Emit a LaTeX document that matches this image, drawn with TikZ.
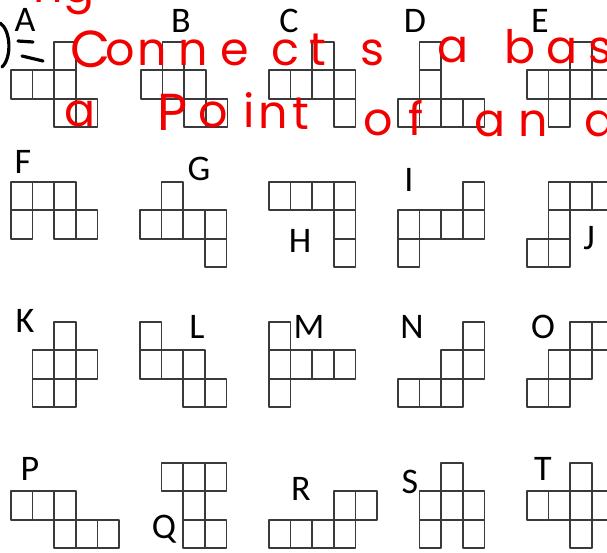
\documentclass[tikz,border=0pt]{standalone}
\usepackage{fontspec}
\setmainfont{Carlito}
\newfontfamily\handfont{Poppins}
\definecolor{gridgray}{HTML}{3A3A3A}
\definecolor{inkred}{HTML}{F20000}
\newcommand{\cw}{21.6}
\newcommand{\ch}{28.33}
\newcommand{\hexnet}[3]{%
  \foreach \c/\r in {#3} {\draw[cellline] ({#1+\c*\cw},{#2+\r*\ch}) rectangle ++(\cw,\ch);}}
\begin{document}
\begin{tikzpicture}[x=1pt,y=-1pt,
  cellline/.style={draw=gridgray,line width=1.7pt,line join=round},
  lbl/.style={font=\fontsize{36}{36}\selectfont,anchor=base,inner sep=0pt},
  hw/.style={text=inkred,font=\handfont\fontsize{46}{46}\selectfont,anchor=base,inner sep=0pt},
  hwcap/.style={hw,font=\handfont\fontsize{52}{52}\selectfont},
  pen/.style={draw=black,line width=3.2pt,line cap=round}]
\useasboundingbox (0,0) rectangle (607,553);
\clip (0,0) rectangle (607,553);
\fill[white] (0,0) rectangle (607,553);
% row 1
\hexnet{11}{42}{2/0,0/1,1/1,2/1,2/2,3/2}
\hexnet{141}{42}{1/0,0/1,1/1,2/1,2/2,3/2}
\hexnet{269}{42}{2/0,0/1,1/1,2/1,3/1,3/2}
\hexnet{398}{42}{1/0,1/1,0/2,1/2,2/2,3/2}
\hexnet{527}{42}{2/0,0/1,1/1,2/1,3/1,1/2}
% row 2
\hexnet{11}{182}{0/0,1/0,2/0,0/1,2/1,3/1}
\hexnet{140}{182}{1/0,0/1,1/1,2/1,3/1,3/2}
\hexnet{269}{182}{0/0,1/0,2/0,3/0,3/1,3/2}
\hexnet{398}{182}{3/0,0/1,1/1,2/1,3/1,0/2}
\hexnet{527}{182}{1/0,2/0,3/0,1/1,0/2,1/2}
% row 3
\hexnet{11}{322}{2/0,1/1,2/1,3/1,1/2,2/2}
\hexnet{140}{322}{0/0,0/1,1/1,2/1,2/2,3/2}
\hexnet{269}{322}{0/0,0/1,1/1,2/1,3/1,0/2}
\hexnet{398}{322}{3/0,2/1,3/1,0/2,1/2,2/2}
\hexnet{527}{322}{2/0,3/0,1/1,2/1,0/2,1/2}
% row 4
\hexnet{11}{463}{0/1,1/1,2/1,2/2,3/2,4/2}
\hexnet{140}{463}{1/0,2/0,3/0,2/1,2/2,3/2}
\hexnet{269}{463}{3/1,4/1,0/2,1/2,2/2,3/2}
\hexnet{398}{463}{2/0,1/1,2/1,3/1,1/2,3/2}
\hexnet{527}{463}{2/0,0/1,1/1,2/1,3/1,2/2}
% labels
\node[lbl] (lA) at (25,32) {A};
\node[lbl] (lB) at (181,33) {B};
\node[lbl] (lC) at (289,33) {C};
\node[lbl] (lD) at (415,33) {D};
\node[lbl] (lE) at (540,33) {E};
\node[lbl] (lF) at (23,174) {F};
\node[lbl] (lG) at (199,181) {G};
\node[lbl] (lH) at (300,252) {H};
\node[lbl] (lI) at (409,192) {I};
\node[lbl] (lJ) at (589,249) {J};
\node[lbl] (lK) at (25,332) {K};
\node[lbl] (lL) at (197,338) {L};
\node[lbl] (lM) at (309,338) {M};
\node[lbl] (lN) at (412,338) {N};
\node[lbl] (lO) at (543,338) {O};
\node[lbl] (lP) at (30,480) {P};
\node[lbl] (lQ) at (164,538) {Q};
\node[lbl] (lR) at (301,500) {R};
\node[lbl] (lS) at (410,493) {S};
\node[lbl] (lT) at (543,480) {T};
% black handwriting "Q="
\draw[pen] (0,23) .. controls (11,30) and (12,58) .. (2,67);
\draw[pen] (18,41) -- (33,42);
\draw[pen] (22,56) -- (43,61);
% red handwriting, top fragment
\node[hw] (h0) at (64,3) {ng};
% line 1
\node[hwcap] (h1) at (91,68) {C};
\node[hw] (h2) at (120,66) {o};
\node[hw] (h3) at (152,66) {n};
\node[hw] (h4) at (193,66) {n};
\node[hw] (h5) at (235,66) {e};
\node[hw] (h6) at (285,66) {c};
\node[hw] (h7) at (318,66) {t};
\node[hw] (h8) at (372,66) {s};
\node[hw] (h9) at (453,63) {a};
\node[hw] (h10) at (520,64) {b};
\node[hw] (h11) at (562,64) {a};
\node[hw] (h12) at (600,64) {s};
% line 2
\node[hw] (k1) at (80,127) {a};
\node[hwcap] (k2) at (173,131) {P};
\node[hw] (k3) at (213,128) {o};
\node[hw] (k4) at (249,128) {i};
\node[hw] (k5) at (273,129) {n};
\node[hw] (k6) at (301,130) {t};
\node[hw] (k7) at (378,136) {o};
\node[hw] (k8) at (416,136) {f};
\node[hw] (k9) at (490,137) {a};
\node[hw] (k10) at (533,137) {n};
\node[hw] (k11) at (600,137) {a};
\end{tikzpicture}
\end{document}
